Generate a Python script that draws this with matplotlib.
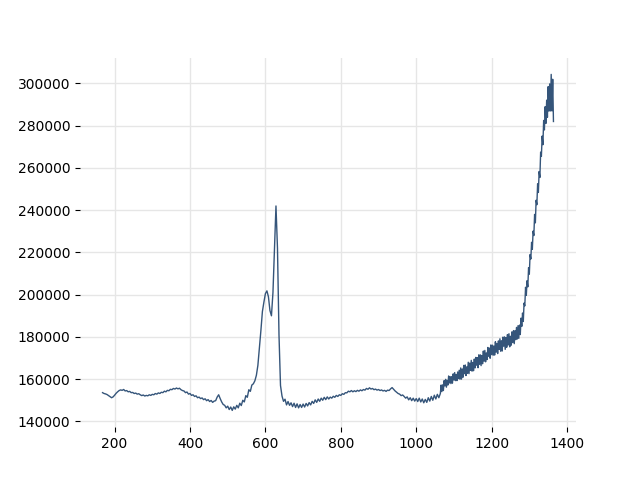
import numpy as np
import matplotlib
matplotlib.use("Agg")
import matplotlib.pyplot as plt

# spectrum, intensity in thousands
# low part: every 4 units from 168 to 1064
low_start = 168
low_step = 4

seg_168_264 = [153.6, 153.2, 153.0, 152.7, 152.2, 151.7, 151.2, 151.6, 152.4, 153.3,
               154.0, 154.6, 154.9, 154.7, 155.1, 154.4, 154.6, 154.0, 154.2, 153.6,
               153.7, 153.2, 153.4, 152.9, 153.1]
seg_268_364 = [152.6, 152.2, 152.5, 152.0, 152.3, 152.1, 152.6, 152.3, 152.8, 152.6,
               153.2, 152.9, 153.5, 153.2, 153.8, 153.6, 154.3, 154.0, 154.7, 154.5,
               155.2, 155.0, 155.6, 155.3, 155.8]
seg_368_464 = [155.4, 155.7, 155.0, 154.6, 154.4, 153.6, 153.9, 152.9, 153.2, 152.3,
               152.6, 151.8, 152.1, 151.2, 151.5, 150.8, 151.1, 150.3, 150.7, 149.8,
               150.3, 149.4, 149.9, 149.0, 149.6]
seg_468_564 = [149.8, 151.5, 152.6, 150.8, 149.2, 148.0, 147.6, 146.4, 147.2, 145.6,
               146.8, 145.2, 146.9, 145.8, 147.6, 146.4, 148.6, 147.5, 150.0, 149.2,
               152.2, 151.4, 155.0, 154.2, 157.2]
seg_568_664 = [157.8, 159.2, 161.8, 166.5, 174.5, 183.0, 192.0, 196.5, 200.5, 201.8,
               199.0, 192.5, 190.0, 201.0, 222.0, 242.0, 222.0, 181.0, 157.0, 152.0,
               149.5, 150.5, 147.8, 149.4, 147.6]
seg_668_764 = [148.8, 147.0, 148.6, 146.6, 148.3, 146.4, 148.0, 146.6, 148.2, 146.8,
               148.5, 147.3, 148.9, 147.8, 149.5, 148.5, 150.2, 149.0, 150.6, 149.5,
               151.0, 150.0, 151.4, 150.3, 151.6]
seg_768_864 = [150.6, 151.5, 151.0, 151.9, 151.4, 152.3, 151.8, 152.6, 152.3, 153.1,
               152.8, 153.6, 153.5, 154.3, 154.0, 154.6, 154.0, 154.5, 154.1, 154.7,
               154.3, 154.9, 154.5, 155.1, 154.8]
seg_868_964 = [155.6, 155.2, 155.9, 155.3, 155.6, 155.0, 155.3, 154.8, 155.1, 154.6,
               154.9, 154.4, 154.7, 154.2, 154.8, 154.6, 155.4, 156.0, 155.2, 154.4,
               153.8, 153.2, 152.9, 152.2, 152.5]
seg_968_1064 = [151.8, 151.0, 151.6, 150.2, 151.2, 149.8, 151.0, 149.6, 150.8, 149.4,
                151.0, 149.2, 150.6, 148.8, 150.4, 149.0, 151.2, 149.6, 151.8, 150.0,
                152.4, 150.6, 152.8, 151.2, 153.2]

# high part: every 2 units from 1066 to 1364 (noisy band)
high_start = 1066
high_step = 2

seg_1066_1114 = [157.2, 154.1, 157.3, 154.6, 159.3, 156.8, 159.9, 156.2, 159.4, 157.2,
                 161.5, 158.2, 161.2, 157.9, 161.2, 158.1, 162.5, 159.6, 163.1, 159.3,
                 162.2, 159.3, 163.4, 160.3, 164.2]
seg_1116_1164 = [160.0, 165.3, 160.0, 164.8, 160.9, 166.5, 162.6, 166.7, 161.7, 165.8,
                 162.8, 168.0, 162.6, 167.6, 164.2, 168.9, 163.8, 167.9, 164.0, 169.5,
                 165.3, 170.3, 166.6, 170.2, 165.4]
seg_1166_1214 = [171.5, 167.0, 171.5, 166.4, 171.2, 167.3, 173.3, 168.5, 173.6, 168.2,
                 172.4, 169.3, 175.0, 170.8, 174.7, 169.9, 176.2, 171.6, 176.1, 171.3,
                 175.7, 171.4, 177.7, 172.8, 176.9]
seg_1216_1264 = [172.1, 178.1, 174.1, 179.1, 173.2, 178.2, 173.3, 179.9, 175.6, 180.0,
                 174.1, 179.7, 175.1, 181.1, 176.2, 181.5, 175.3, 180.3, 176.1, 182.4,
                 177.3, 183.0, 176.8, 182.9, 178.7]
seg_1266_1314 = [184.5, 179.0, 185.3, 179.3, 185.6, 181.1, 188.9, 185.0, 191.3, 187.3,
                 196.0, 194.7, 203.5, 199.7, 206.6, 203.7, 212.8, 209.7, 219.0, 216.9,
                 224.8, 221.5, 230.1, 228.0, 238.0]
seg_1316_1364 = [234.0, 244.7, 242.6, 252.5, 248.4, 258.3, 255.5, 267.5, 265.5, 275.1,
                 271.0, 282.5, 278.0, 289.0, 281.1, 292.1, 284.0, 298.5, 286.9, 299.8,
                 287.0, 304.3, 287.0, 302.0, 282.0]

low_part = np.concatenate([seg_168_264, seg_268_364, seg_368_464, seg_468_564, seg_568_664,
                           seg_668_764, seg_768_864, seg_868_964, seg_968_1064])
high_part = np.concatenate([seg_1066_1114, seg_1116_1164, seg_1166_1214, seg_1216_1264,
                            seg_1266_1314, seg_1316_1364])

wavenumber = np.concatenate([low_start + low_step * np.arange(len(low_part)),
                             high_start + high_step * np.arange(len(high_part))])
intensity = np.concatenate([low_part, high_part]) * 1000

fig, ax = plt.subplots(figsize=(6.4, 4.8), dpi=100)

ax.plot(wavenumber, intensity, color='#35557a', linewidth=1)

# no frame, light grid
for side in ['top', 'right', 'bottom', 'left']:
    ax.spines[side].set_visible(False)
ax.grid(True, color='#e6e6e6', linewidth=1)
ax.set_axisbelow(True)
ax.set_yticks([140000, 160000, 180000, 200000, 220000, 240000, 260000, 280000, 300000])

plt.savefig('out.png')
